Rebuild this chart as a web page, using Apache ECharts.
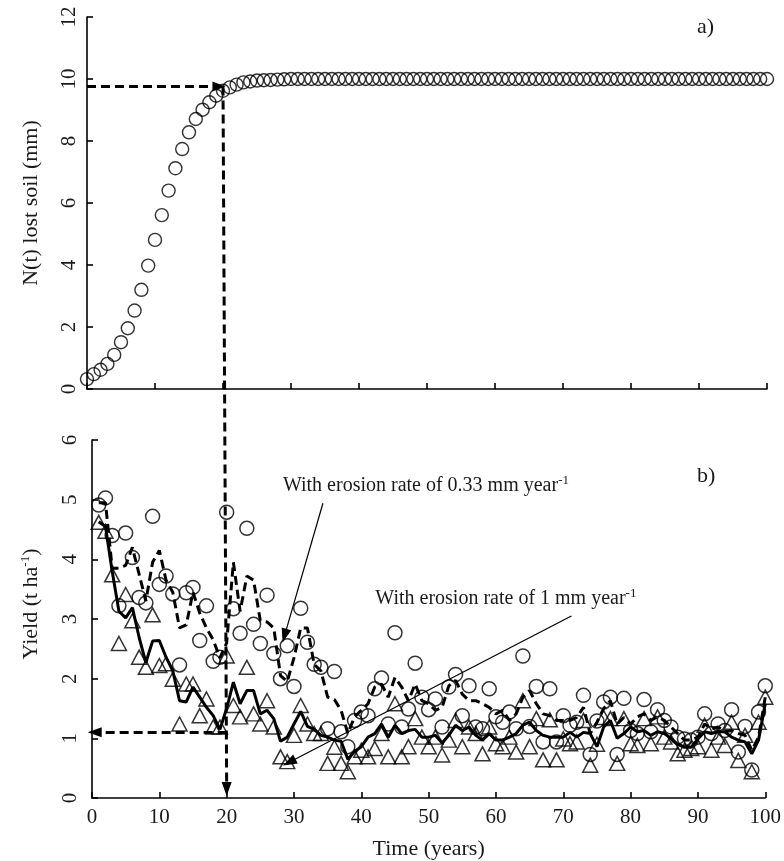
<!DOCTYPE html>
<html><head><meta charset="utf-8">
<script src="https://cdn.jsdelivr.net/npm/echarts@6/dist/echarts.min.js"></script>
<style>html,body{margin:0;padding:0;background:#fff}#c{width:784px;height:861px}</style>
</head><body><div id="c"></div>
<script>
// Top panel: N(t) lost soil (mm), years 0..100
const lostSoil = [0.32,0.48,0.62,0.81,1.10,1.51,1.96,2.53,3.20,3.98,
 4.81,5.61,6.40,7.12,7.74,8.28,8.71,9.01,9.25,9.46,
 9.62,9.73,9.82,9.89,9.92,9.95,9.96,9.97,9.98,9.99,
 10,10,10,10,10,10,10,10,10,10, 10,10,10,10,10,10,10,10,10,10,
 10,10,10,10,10,10,10,10,10,10, 10,10,10,10,10,10,10,10,10,10,
 10,10,10,10,10,10,10,10,10,10, 10,10,10,10,10,10,10,10,10,10,
 10,10,10,10,10,10,10,10,10,10, 10];
// Bottom panel: yield (t/ha), years 1..100
const yieldLowPts = [4.91,5.03,4.40,3.22,4.44,4.03,3.36,3.27,4.72,3.58,
 3.72,3.42,2.23,3.44,3.53,2.64,3.22,2.29,2.36,4.79,
 3.17,2.76,4.52,2.91,2.59,3.40,2.42,2.00,2.55,1.87,
 3.18,2.61,2.24,2.19,1.16,2.12,1.11,0.86,1.30,1.44,
 1.38,1.83,2.01,1.24,2.77,1.19,1.49,2.26,1.69,1.48,
 1.66,1.19,1.86,2.07,1.38,1.88,1.19,1.16,1.83,1.36,
 1.27,1.44,1.16,2.38,1.20,1.87,0.94,1.83,0.94,1.38,
 1.22,1.27,1.72,0.73,1.29,1.61,1.69,0.73,1.67,1.13,
 1.08,1.65,1.11,1.48,1.30,1.19,1.02,0.99,0.97,1.02,
 1.41,1.08,1.24,1.13,1.48,0.77,1.20,0.47,1.44,1.88];
const yieldHighPts = [4.62,4.47,3.74,2.59,3.41,2.97,2.36,2.19,3.07,2.22,
 2.25,1.99,1.24,1.91,1.91,1.38,1.66,1.19,1.19,2.38,
 1.55,1.36,2.19,1.41,1.24,1.63,1.19,0.69,0.61,1.05,
 1.55,1.24,1.08,1.08,0.58,0.85,0.58,0.44,0.69,0.80,
 0.69,0.83,1.08,0.69,1.58,0.69,0.86,1.33,1.02,0.86,
 1.02,0.72,0.97,1.30,0.86,1.19,1.08,0.74,1.19,0.91,
 0.86,1.02,0.77,1.63,0.86,1.33,0.64,1.31,0.64,0.99,
 0.91,0.94,1.30,0.55,0.90,1.35,1.33,0.58,1.33,0.91,
 0.88,1.33,0.91,1.36,1.02,0.94,0.74,0.80,0.83,0.86,
 1.22,0.80,1.02,0.88,1.27,0.63,1.05,0.44,1.27,1.69];
const yieldLowLine = [4.95,4.95,3.85,3.85,3.90,4.20,3.75,3.30,3.95,4.15,
 3.65,3.45,2.85,2.90,3.45,3.10,2.85,2.65,2.35,2.60,
 3.95,3.13,3.72,3.65,2.97,2.95,2.85,2.05,1.95,2.35,
 2.85,2.85,2.24,2.13,1.69,1.65,1.47,1.08,1.36,1.47,
 1.58,1.86,1.91,1.69,2.02,1.86,1.63,1.91,1.63,1.58,
 1.47,1.52,1.88,1.97,1.74,1.63,1.63,1.58,1.52,1.41,
 1.47,1.30,1.41,1.69,1.80,1.58,1.41,1.38,1.30,1.30,
 1.30,1.35,1.52,1.08,1.27,1.50,1.63,1.24,1.35,1.24,
 1.36,1.41,1.30,1.36,1.30,1.19,1.08,0.97,0.97,1.02,
 1.24,1.16,1.19,1.11,1.13,1.08,1.05,0.80,1.02,1.69];
const yieldHighLine = [4.63,4.55,3.80,3.13,3.02,3.19,2.69,2.27,2.63,2.64,
 2.36,2.13,1.63,1.61,1.86,1.69,1.52,1.38,1.15,1.50,
 1.94,1.58,1.80,1.80,1.41,1.47,1.33,0.95,1.02,1.24,
 1.45,1.20,1.15,1.05,1.02,0.97,0.95,0.65,0.78,0.86,
 1.02,1.08,1.24,1.02,1.22,1.08,1.13,1.15,1.02,1.02,
 1.05,0.92,1.05,1.22,1.13,1.19,1.05,0.97,1.08,0.97,
 0.97,1.02,1.08,1.22,1.27,1.13,1.05,1.02,1.02,1.02,
 1.10,1.02,1.10,1.08,0.86,1.19,1.30,1.00,1.08,1.19,
 1.11,1.13,1.05,1.11,1.08,1.00,0.90,0.85,0.85,0.99,
 1.11,1.08,1.11,1.11,1.02,0.97,0.94,0.74,0.97,1.58];
const markYear = 20, markLost = 9.76, markYield = 1.1;

const topYears = lostSoil.map((v,i)=>i);
const botYears = yieldLowPts.map((v,i)=>i+1);
const pair = (xs, ys) => xs.map((x,i)=>[x, ys[i]]);

const FONT = 'Liberation Serif';
const TXT = '#1a1a1a';
const chart = echarts.init(document.getElementById('c'));
const axisLine = {show:true, lineStyle:{color:'#000', width:1.6}};
const tick = {show:true, inside:true, length:6, lineStyle:{color:'#000', width:1.6}};
const lbl = {color:TXT, fontFamily:FONT, fontSize:21};

chart.setOption({
  animation:false,
  backgroundColor:'#fff',
  grid:[
    {left:87, top:17, width:680, height:372},
    {left:92, top:440, width:674, height:358}
  ],
  xAxis:[
    {gridIndex:0, type:'value', min:0, max:100, interval:10, axisLine, axisTick:tick,
     axisLabel:{show:false}, splitLine:{show:false}},
    {gridIndex:1, type:'value', min:0, max:100, interval:10, axisLine, axisTick:tick,
     axisLabel:Object.assign({margin:9}, lbl), splitLine:{show:false},
     name:'Time (years)', nameLocation:'middle', nameGap:40,
     nameTextStyle:{color:TXT, fontFamily:FONT, fontSize:22}}
  ],
  yAxis:[
    {gridIndex:0, type:'value', min:0, max:12, interval:2, axisLine, axisTick:tick,
     axisLabel:Object.assign({rotate:90, margin:7}, lbl), splitLine:{show:false},
     name:'N(t) lost soil (mm)', nameLocation:'middle', nameGap:45, nameRotate:90,
     nameTextStyle:{color:TXT, fontFamily:FONT, fontSize:22}},
    {gridIndex:1, type:'value', min:0, max:6, interval:1, axisLine, axisTick:tick,
     axisLabel:Object.assign({rotate:90, margin:11}, lbl), splitLine:{show:false},
     name:'{a|Yield (t ha}{s|-1}{a|)}', nameLocation:'middle', nameGap:49, nameRotate:90,
     nameTextStyle:{color:TXT, fontFamily:FONT, fontSize:22, padding:[0,0,0,30],
       rich:{a:{fontFamily:FONT, fontSize:22, color:TXT, lineHeight:24},
             s:{fontFamily:FONT, fontSize:13, color:TXT, lineHeight:24, verticalAlign:'top', padding:[0,0,9,0]}}}}
  ],
  series:[
    {type:'scatter', xAxisIndex:0, yAxisIndex:0, data:pair(topYears, lostSoil),
     symbol:'circle', symbolSize:13, itemStyle:{color:'rgba(255,255,255,0)', borderColor:'#000', borderWidth:1.4},
     markLine:{silent:true, symbol:['none','triangle'], symbolSize:[10,13], label:{show:false},
       lineStyle:{color:'#000', type:[9,5], width:3},
       data:[[{coord:[0, markLost]}, {coord:[markYear-0.6, markLost]}]]}},
    {type:'scatter', xAxisIndex:1, yAxisIndex:1, data:pair(botYears, yieldLowPts), z:2,
     symbol:'circle', symbolSize:14, itemStyle:{color:'rgba(255,255,255,0)', borderColor:'#000', borderWidth:1.5}},
    {type:'scatter', xAxisIndex:1, yAxisIndex:1, data:pair(botYears, yieldHighPts), z:2,
     symbol:'triangle', symbolSize:[15,14], itemStyle:{color:'rgba(255,255,255,0)', borderColor:'#000', borderWidth:1.5},
     markLine:{silent:true, symbol:['none','triangle'], symbolSize:[10,14], label:{show:false},
       data:[
         [{coord:[markYear, markYield], lineStyle:{color:'#000', type:[9,5], width:3}}, {coord:[0.4, markYield]}],
         [{coord:[34.3, 4.94], lineStyle:{color:'#000', type:'solid', width:1.2}}, {coord:[28.6, 2.72]}],
         [{coord:[71.2, 3.05], lineStyle:{color:'#000', type:'solid', width:1.2}}, {coord:[29.3, 0.6]}]
       ]}},
    {type:'line', xAxisIndex:1, yAxisIndex:1, data:pair(botYears, yieldLowLine), z:3,
     showSymbol:false, symbol:'none', lineStyle:{color:'#000', width:3, type:[9,5]}},
    {type:'line', xAxisIndex:1, yAxisIndex:1, data:pair(botYears, yieldHighLine), z:3,
     showSymbol:false, symbol:'none', lineStyle:{color:'#000', width:3, type:'solid'}}
  ]
});

// vertical dashed arrow spanning both panels, positioned through the axes' scales
const pTop = chart.convertToPixel({gridIndex:0}, [markYear, markLost]);
const pBot = chart.convertToPixel({gridIndex:1}, [markYear, 0]);
const tipY = pBot[1] - 2;
const t1 = chart.convertToPixel({gridIndex:1}, [34.3, 4.94]);
const t2 = chart.convertToPixel({gridIndex:1}, [71.2, 3.05]);
const annRich = {a:{fontFamily:FONT, fontSize:20, fill:TXT, lineHeight:24},
                 s:{fontFamily:FONT, fontSize:13, fill:TXT, lineHeight:24, verticalAlign:'top', padding:[0,0,8,0]}};
chart.setOption({
  graphic:[
    {type:'line', z:10, shape:{x1:pTop[0], y1:pTop[1], x2:pBot[0], y2:tipY-12},
     style:{stroke:'#000', lineWidth:3, lineDash:[9,5]}},
    {type:'polygon', z:10, shape:{points:[[pBot[0]-5, tipY-14],[pBot[0]+5, tipY-14],[pBot[0], tipY]]},
     style:{fill:'#000'}},
    {type:'text', left:697, top:16, style:{text:'a)', font:'22px "Liberation Serif"', fill:TXT}},
    {type:'text', left:697, top:465, style:{text:'b)', font:'22px "Liberation Serif"', fill:TXT}},
    {type:'text', x:t1[0]-40, y:t1[1]-29, style:{text:'{a|With erosion rate of 0.33 mm year}{s|-1}', rich:annRich}},
    {type:'text', x:t2[0]-196, y:t2[1]-29, style:{text:'{a|With erosion rate of 1 mm year}{s|-1}', rich:annRich}}
  ]
});
</script></body></html>
